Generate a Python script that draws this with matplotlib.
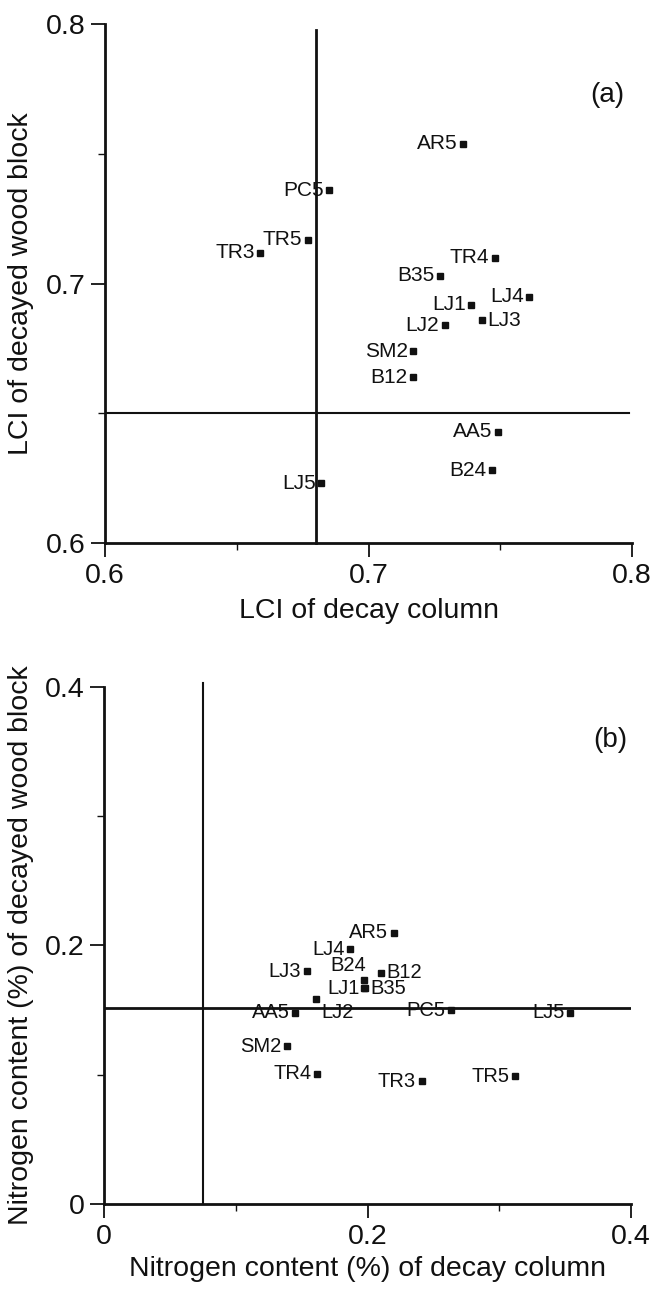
import matplotlib
matplotlib.use("Agg")
import matplotlib.pyplot as plt
from matplotlib.ticker import FixedLocator, FormatStrFormatter

plt.rcParams['font.family'] = ['Liberation Sans', 'DejaVu Sans']

# sample names
samples = ["AR5", "PC5", "TR5", "TR3", "TR4", "B35", "LJ1", "LJ4",
           "LJ3", "LJ2", "SM2", "B12", "AA5", "B24", "LJ5"]

# (a) LCI
lci_column = [0.736, 0.685, 0.677, 0.659, 0.748, 0.727, 0.739, 0.761,
              0.743, 0.729, 0.717, 0.717, 0.749, 0.747, 0.682]
lci_block = [0.754, 0.736, 0.717, 0.712, 0.710, 0.703, 0.692, 0.695,
             0.686, 0.684, 0.674, 0.664, 0.643, 0.628, 0.623]
lci_ref_x = 0.68
lci_ref_y = 0.65

# (b) nitrogen content (%)
n_column = [0.220, 0.263, 0.312, 0.241, 0.162, 0.198, 0.197, 0.187,
            0.154, 0.161, 0.139, 0.210, 0.145, 0.197, 0.354]
n_block = [0.210, 0.150, 0.099, 0.095, 0.101, 0.167, 0.167, 0.197,
           0.180, 0.159, 0.122, 0.179, 0.148, 0.173, 0.148]
n_ref_x = 0.075
n_ref_y = 0.152

# label offsets (points), default = left of marker
off_a = {"LJ3": (4, 0, "left")}
off_b = {"B12": (4, 0, "left"), "B35": (4, 0, "left"),
         "LJ2": (3.5, -10, "left"), "B24": (2, 11, "right"),
         "LJ1": (-3, 0, "right")}

ink = "#111111"

fig = plt.figure(figsize=(6.55, 12.89), dpi=100)
ax_a = fig.add_axes([0.1603, 0.5787, 0.8046, 0.4023])
ax_b = fig.add_axes([0.1588, 0.0657, 0.8046, 0.4016])


def style(ax, lim, major, minor, fmt):
    ax.set_xlim(lim)
    ax.set_ylim(lim)
    for s in ["top", "right"]:
        ax.spines[s].set_visible(False)
    for s in ["left", "bottom"]:
        ax.spines[s].set_linewidth(2.0)
        ax.spines[s].set_color(ink)
    for axis in [ax.xaxis, ax.yaxis]:
        axis.set_major_locator(FixedLocator(major))
        axis.set_minor_locator(FixedLocator(minor))
        axis.set_major_formatter(FormatStrFormatter(fmt))
    ax.tick_params(which="major", direction="out", length=10, width=1.3,
                   labelsize=20.5, pad=4, colors=ink)
    ax.tick_params(which="minor", direction="out", length=5, width=1.0,
                   colors=ink)


def points(ax, xs, ys, offs, fs):
    ax.plot(xs, ys, "s", color=ink, markersize=5, clip_on=False, zorder=3)
    for name, x, y in zip(samples, xs, ys):
        dx, dy, ha = offs.get(name, (-4, 0, "right"))
        ax.annotate(name, (x, y), xytext=(dx, dy), textcoords="offset points",
                    ha=ha, va="center", fontsize=fs, color=ink)


# panel (a)
style(ax_a, (0.6, 0.8), [0.6, 0.7, 0.8], [0.65, 0.75], "%.1f")
ax_a.plot([lci_ref_x, lci_ref_x], [0.6, 0.798], color=ink, lw=2.0, clip_on=False)
ax_a.plot([0.6, 0.799], [lci_ref_y, lci_ref_y], color=ink, lw=1.5)
points(ax_a, lci_column, lci_block, off_a, 15)
ax_a.text(0.954, 0.864, "(a)", transform=ax_a.transAxes, fontsize=20,
          ha="center", va="center", color=ink)
ax_a.set_xlabel("LCI of decay column", fontsize=20.5, color=ink)
ax_a.set_ylabel("LCI of decayed wood block", fontsize=20.5, color=ink)
ax_a.xaxis.set_label_coords(0.5, -0.105)
ax_a.yaxis.set_label_coords(-0.135, 0.5)

# panel (b)
style(ax_b, (0, 0.4), [0, 0.2, 0.4], [0.1, 0.3], "%g")
ax_b.plot([n_ref_x, n_ref_x], [0, 0.403], color=ink, lw=1.5, clip_on=False)
ax_b.plot([0, 0.4], [n_ref_y, n_ref_y], color=ink, lw=2.0)
points(ax_b, n_column, n_block, off_b, 14.5)
ax_b.text(0.96, 0.897, "(b)", transform=ax_b.transAxes, fontsize=20,
          ha="center", va="center", color=ink)
ax_b.set_xlabel("Nitrogen content (%) of decay column", fontsize=20.5, color=ink)
ax_b.set_ylabel("Nitrogen content (%) of decayed wood block", fontsize=20.5,
                color=ink)
ax_b.xaxis.set_label_coords(0.5, -0.1)
ax_b.yaxis.set_label_coords(-0.133, 0.5)

fig.savefig("out.png", dpi=100)
